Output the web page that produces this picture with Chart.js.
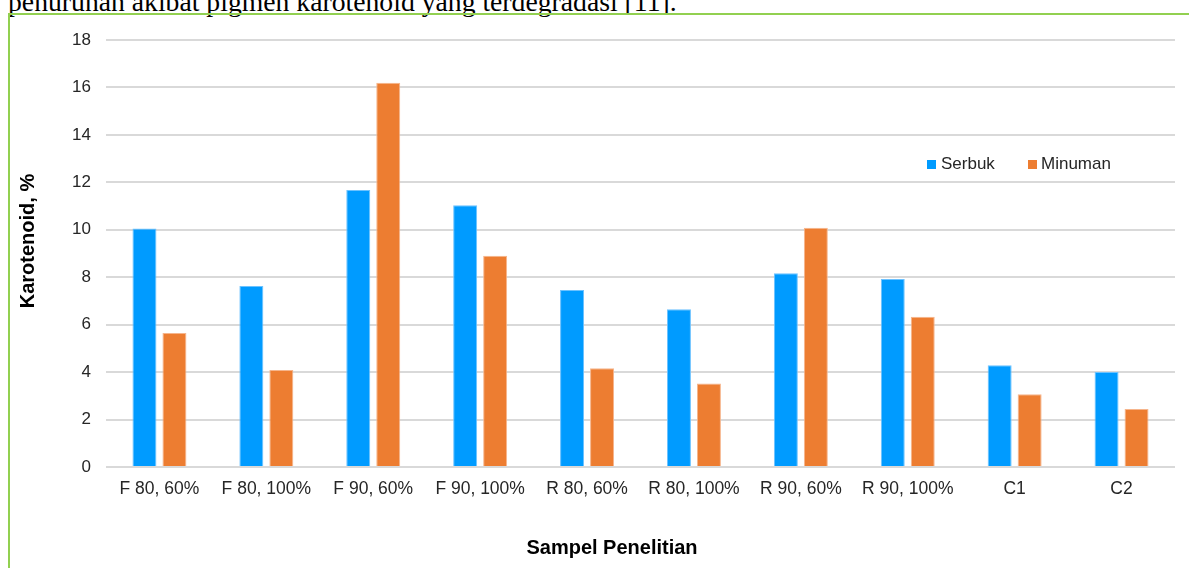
<!DOCTYPE html>
<html>
<head>
<meta charset="utf-8">
<script src="https://cdn.jsdelivr.net/npm/chart.js@4/dist/chart.umd.min.js"></script>
<style>
  html, body { margin:0; padding:0; background:#fff; width:1189px; height:568px; overflow:hidden; }
  #caption { position:absolute; left:8px; top:-12px; font-family:"Liberation Serif","Times New Roman",serif; font-size:27.7px; line-height:28px; color:#000; white-space:nowrap; }
  #frame { position:absolute; left:8px; top:13px; width:1200px; height:600px; border-left:2px solid #92D050; border-top:2px solid #92D050; }
  #wrap { position:absolute; left:0; top:0; width:1189px; height:568px; }
</style>
</head>
<body>
<div id="caption">penurunan akibat pigmen karotenoid yang terdegradasi [11].</div>
<div id="frame"></div>
<div id="wrap"><canvas id="c" width="1189" height="568"></canvas></div>
<script>
const categories = ["F 80, 60%", "F 80, 100%", "F 90, 60%", "F 90, 100%", "R 80, 60%", "R 80, 100%", "R 90, 60%", "R 90, 100%", "C1", "C2"];
const serbuk  = [10.05, 7.63, 11.68, 11.03, 7.46, 6.65, 8.17, 7.92, 4.29, 4.0];
const minuman = [5.65, 4.09, 16.2, 8.9, 4.16, 3.52, 10.09, 6.33, 3.07, 2.45];
const seriesNames = ["Serbuk", "Minuman"];
const yTicks = [0, 2, 4, 6, 8, 10, 12, 14, 16, 18];
const xTitle = "Sampel Penelitian";
const yTitle = "Karotenoid, %";

const FONT = "'Liberation Sans', Arial, sans-serif";

const overlay = {
  id: 'overlay',
  afterDatasetsDraw(chart) {
    const ctx = chart.ctx;
    const items = [
      {x: 927, tx: 941},
      {x: 1028, tx: 1041}
    ];
    ctx.save();
    ctx.font = "17px " + FONT;
    ctx.textBaseline = 'middle';
    ctx.textAlign = 'left';
    chart.data.datasets.forEach((ds, i) => {
      const it = items[i];
      ctx.fillStyle = ds.backgroundColor;
      ctx.fillRect(it.x, 160, 9, 9);
      ctx.fillStyle = '#262626';
      ctx.fillText(ds.label, it.tx, 164.5);
    });
    // axis titles
    ctx.fillStyle = '#000';
    ctx.textAlign = 'center';
    ctx.font = "bold 20px " + FONT;
    ctx.fillText(xTitle, 612, 548);
    ctx.translate(28, 241);
    ctx.rotate(-Math.PI / 2);
    ctx.font = "bold 20px " + FONT;
    ctx.fillText(yTitle, 0, 0);
    ctx.restore();
  }
};

new Chart(document.getElementById('c'), {
  type: 'bar',
  data: {
    labels: categories,
    datasets: [
      { label: seriesNames[0], data: serbuk, backgroundColor: '#009BFF', borderColor: '#6cc2ff', borderWidth: 1, categoryPercentage: 0.561, barPercentage: 0.8 },
      { label: seriesNames[1], data: minuman, backgroundColor: '#ED7D31', borderColor: '#f6b58c', borderWidth: 1, categoryPercentage: 0.561, barPercentage: 0.8 }
    ]
  },
  options: {
    responsive: false,
    animation: false,
    layout: { padding: { left: 0, right: 14, top: 40, bottom: 0 } },
    plugins: { legend: { display: false }, tooltip: { enabled: false } },
    scales: {
      x: {
        grid: { display: false },
        border: { display: false },
        ticks: { font: { family: FONT, size: 17.5 }, color: '#262626', padding: 4, maxRotation: 0, autoSkip: false },
        afterFit(s) { s.height = 101; }
      },
      y: {
        min: 0, max: 18,
        afterBuildTicks(s) { s.ticks = yTicks.map(v => ({ value: v })); },
        grid: { color: '#d9d9d9', lineWidth: 2, drawTicks: false },
        border: { display: false },
        ticks: { font: { family: FONT, size: 17 }, color: '#262626', padding: 15 },
        afterFit(s) { s.width = 106; }
      }
    }
  },
  plugins: [overlay]
});
</script>
</body>
</html>
